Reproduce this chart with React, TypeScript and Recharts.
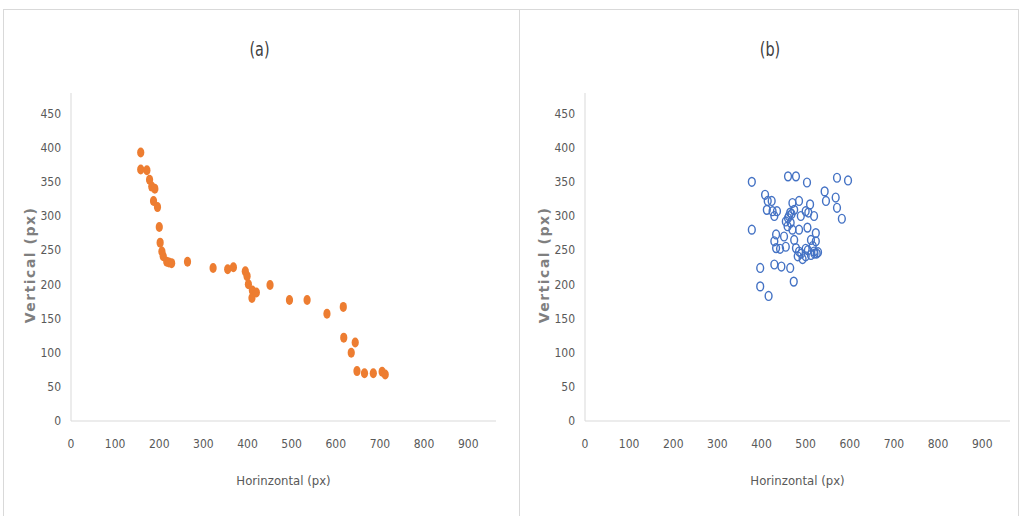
import React from "react";
import { ScatterChart, Scatter, XAxis, YAxis, Label } from "recharts";

const xTicks = [0, 100, 200, 300, 400, 500, 600, 700, 800, 900];
const yTicks = [0, 50, 100, 150, 200, 250, 300, 350, 400, 450];

// panel (a) – orange filled dots
const aX = [158, 158, 172, 178, 183, 190, 187, 196, 200, 202, 206, 209, 217, 222, 228, 264, 322, 355, 368, 395, 399, 402, 411, 410, 420, 451, 495, 535, 580, 617, 618, 644, 635, 648, 665, 685, 705, 712];
const aY = [393, 368, 367, 353, 343, 340, 322, 313, 284, 261, 248, 241, 233, 232, 231, 233, 224, 222, 225, 219, 212, 200, 191, 180, 188, 199, 177, 177, 157, 167, 122, 115, 100, 73, 70, 70, 72, 68];

// panel (b) – blue open circles
const bX = [378, 460, 478, 503, 571, 596, 408, 414, 423, 412, 425, 429, 435, 470, 485, 474, 465, 460, 455, 459, 466, 470, 510, 500, 506, 519, 489, 543, 546, 568, 571, 582, 378, 485, 504, 523, 433, 429, 451, 474, 512, 433, 442, 455, 478, 485, 500, 516, 523, 482, 493, 512, 519, 528, 500, 397, 429, 445, 465, 473, 397, 416, 462, 468, 505, 520, 525, 490];
const bY = [350, 358, 358, 349, 356, 352, 331, 322, 322, 309, 307, 300, 307, 319, 322, 309, 305, 297, 292, 285, 290, 280, 317, 307, 305, 300, 300, 336, 322, 327, 312, 296, 280, 280, 283, 275, 273, 263, 270, 265, 265, 253, 252, 255, 253, 248, 252, 256, 263, 241, 237, 243, 248, 247, 241, 224, 229, 226, 224, 204, 197, 183, 300, 303, 250, 245, 245, 245];

const toPoints = (xs: number[], ys: number[]) => xs.map((x, i) => ({ x, y: ys[i] }));
const dataA = toPoints(aX, aY);
const dataB = toPoints(bX, bY);

const FONT = '"Liberation Sans Narrow", "DejaVu Sans Condensed", "Roboto Condensed", Roboto, sans-serif';
const AXIS = "#d9d9d9";
const TEXT = "#595959";
const FRAME = "#d9d9d9";

const OrangeDot = (p: any) => <ellipse cx={p.cx} cy={p.cy} rx={3.6} ry={5} fill="#ED7D31" />;
const BlueRing = (p: any) => (
  <ellipse cx={p.cx} cy={p.cy} rx={3.4} ry={4.4} fill="none" stroke="#4472C4" strokeWidth={1.4} />
);

function Panel({ title, data, shape, left, width, yWidth, right }: any) {
  return (
    <div style={{ position: "absolute", left, top: 0, width, height: 516 }}>
      <div
        style={{
          position: "absolute",
          left: 0,
          width: "100%",
          top: 37,
          textAlign: "center",
          fontFamily: FONT,
          fontSize: 20,
          color: "#404040",
          transform: "scaleX(0.8)",
        }}
      >
        {title}
      </div>
      <ScatterChart width={width} height={516} margin={{ top: 93, right, bottom: 25, left: 0 }}>
        <XAxis
          type="number"
          dataKey="x"
          domain={[0, 963]}
          ticks={xTicks}
          interval={0}
          height={70}
          tickLine={false}
          tickMargin={12}
          axisLine={{ stroke: AXIS }}
          tick={{ fill: TEXT, fontSize: 12, fontFamily: FONT }}
          allowDataOverflow
        >
          <Label
            content={({ viewBox }: any) => (
              <text
                x={viewBox.x + viewBox.width / 2}
                y={viewBox.y + 64}
                textAnchor="middle"
                fill={TEXT}
                fontSize={13}
                fontFamily={FONT}
              >
                Horinzontal (px)
              </text>
            )}
          />
        </XAxis>
        <YAxis
          type="number"
          dataKey="y"
          domain={[0, 480]}
          ticks={yTicks}
          interval={0}
          width={yWidth}
          tickLine={false}
          tickMargin={4}
          axisLine={{ stroke: AXIS }}
          tick={{ fill: TEXT, fontSize: 12, fontFamily: FONT }}
          allowDataOverflow
        >
          <Label
            content={({ viewBox }: any) => {
              const x = viewBox.x + viewBox.width - 41;
              const y = viewBox.y + viewBox.height / 2 + 8;
              return (
                <text
                  x={x}
                  y={y}
                  transform={`rotate(-90, ${x}, ${y})`}
                  textAnchor="middle"
                  dominantBaseline="central"
                  fill="#7f7f7f"
                  fontSize={14}
                  fontWeight="bold"
                  letterSpacing={1.5}
                  fontFamily='"DejaVu Sans", sans-serif'
                >
                  Vertical (px)
                </text>
              );
            }}
          />
        </YAxis>
        <Scatter data={data} shape={shape} isAnimationActive={false} />
      </ScatterChart>
    </div>
  );
}

export default function App() {
  return (
    <div style={{ position: "absolute", left: 0, top: 0, width: 1021, height: 516, background: "#fff", overflow: "hidden" }}>
      <div
        style={{
          position: "absolute",
          left: 3,
          top: 9,
          width: 1014,
          height: 520,
          borderLeft: `1px solid ${FRAME}`,
          borderTop: `1px solid ${FRAME}`,
          borderRight: `1px solid ${FRAME}`,
        }}
      />
      <div style={{ position: "absolute", left: 519, top: 9, width: 1, height: 520, background: FRAME }} />
      <Panel title="(a)" data={dataA} shape={OrangeDot} left={0} width={519} yWidth={71} right={23} />
      <Panel title="(b)" data={dataB} shape={BlueRing} left={519} width={502} yWidth={66} right={11} />
    </div>
  );
}
